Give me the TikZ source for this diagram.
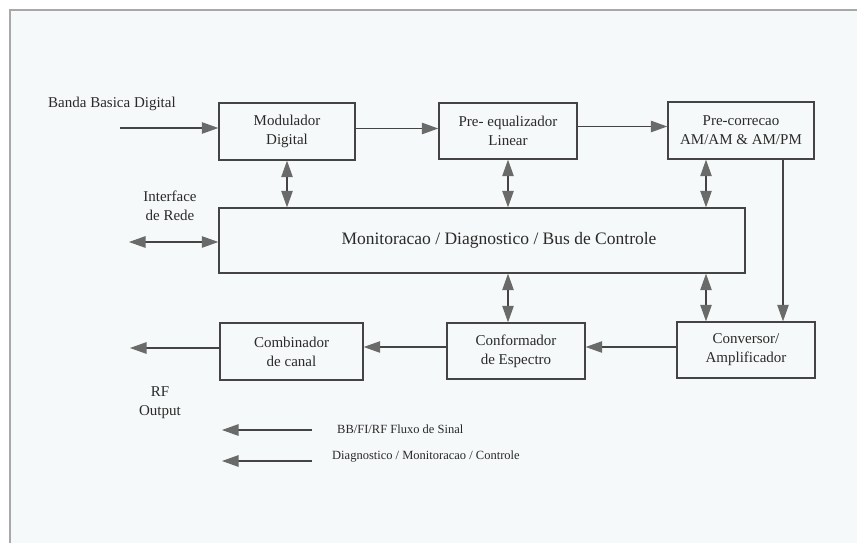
\documentclass[tikz,border=0pt]{standalone}
\usepackage{fontspec}
\setmainfont{Liberation Serif}
\usetikzlibrary{arrows.meta}
\definecolor{framegrey}{HTML}{A8A8A8}
\definecolor{linegrey}{HTML}{444444}
\definecolor{tipgrey}{HTML}{6A6A6A}
\definecolor{paper}{HTML}{F6F9F9}
\definecolor{inkgrey}{HTML}{2A2A2A}
\tikzset{
  mytip/.tip={Triangle[length=16.5pt,width=11.5pt,color=tipgrey]},
  blk/.style={draw=linegrey, line width=1.4pt, fill=paper, align=center, inner sep=0pt,
    text=inkgrey, font=\fontsize{15}{19}\selectfont},
  lbl/.style={align=center, inner sep=0pt, text=inkgrey, font=\fontsize{15}{19}\selectfont},
  leg/.style={anchor=west, inner sep=0pt, text=inkgrey, font=\fontsize{12.5}{15}\selectfont},
  sig/.style={draw=linegrey, line width=1.1pt, -{mytip}},
  bid/.style={draw=linegrey, line width=1.1pt, {mytip}-{mytip}},
}
\begin{document}
\begin{tikzpicture}[x=1pt,y=-1pt]
\useasboundingbox (0,0) rectangle (857,543);
\fill[white] (0,0) rectangle (857,543);
\fill[paper] (10,10) rectangle (857,543);
\draw[framegrey, line width=2pt] (857,10) -- (10,10) -- (10,543);

% blocks
\node[blk, minimum width=136pt, minimum height=57pt] (mod) at (287,131.5) {Modulador\\Digital};
\node[blk, minimum width=138pt, minimum height=56pt] (preeq) at (508,131) {Pre- equalizador\\Linear};
\node[blk, minimum width=146pt, minimum height=57pt] (precorr) at (741,130.5) {Pre-correcao\\AM/AM \& AM/PM};
\node[blk, minimum width=526pt, minimum height=65pt, font=\fontsize{17.5}{21}\selectfont] (bus) at (482,240.5) {\hspace*{34pt}Monitoracao / Diagnostico / Bus de Controle};
\node[blk, minimum width=138pt, minimum height=56pt] (conv) at (746,350) {Conversor/\\Amplificador};
\node[blk, minimum width=138pt, minimum height=56pt] (conf) at (516,351) {Conformador\\de Espectro};
\node[blk, minimum width=143pt, minimum height=57pt] (comb) at (291.5,351.5) {Combinador\\de canal};

% labels
\node[lbl, anchor=west] (bbd) at (48,104) {Banda Basica Digital};
\node[lbl] (iface) at (170,206) {Interface\\de Rede};
\node[lbl] (rfout) at (160,403) {RF\\Output};
\node[leg] (leg1) at (337,429) {BB/FI/RF Fluxo de Sinal};
\node[leg] (leg2) at (332,457) {Diagnostico / Monitoracao / Controle};

% free ends
\coordinate (in) at (120,128);
\coordinate (net) at (129,242);
\coordinate (out) at (130,348);
\coordinate (l1a) at (312,430);
\coordinate (l1b) at (222,430);
\coordinate (l2a) at (312,461);
\coordinate (l2b) at (222,461);
\coordinate (pc1) at ([xshift=-35pt]precorr.south);
\coordinate (pc2) at ([xshift=42pt]precorr.south);

% signal flow
\draw[sig] (in) -- (in -| mod.west);
\draw[sig] ([yshift=3pt]mod.east) -- ([yshift=3pt]mod.east -| preeq.west);
\draw[sig] ([yshift=4.5pt]preeq.east) -- ([yshift=4.5pt]preeq.east -| precorr.west);
\draw[sig] (pc2) -- (pc2 |- conv.north);
\draw[sig] ([yshift=3pt]conv.west) -- ([yshift=3pt]conv.west -| conf.east);
\draw[sig] ([yshift=4pt]conf.west) -- ([yshift=4pt]conf.west -| comb.east);
\draw[sig] (comb.west |- out) -- (out);

% control
\draw[bid] (mod.south) -- (mod.south |- bus.north);
\draw[bid] (preeq.south) -- (preeq.south |- bus.north);
\draw[bid] (pc1) -- (pc1 |- bus.north);
\draw[bid] (preeq.south |- bus.south) -- (preeq.south |- conf.north);
\draw[bid] (pc1 |- bus.south) -- (pc1 |- conv.north);
\draw[bid] (net) -- (net -| bus.west);

% legend
\draw[sig] (l1a) -- (l1b);
\draw[sig] (l2a) -- (l2b);
\end{tikzpicture}
\end{document}
